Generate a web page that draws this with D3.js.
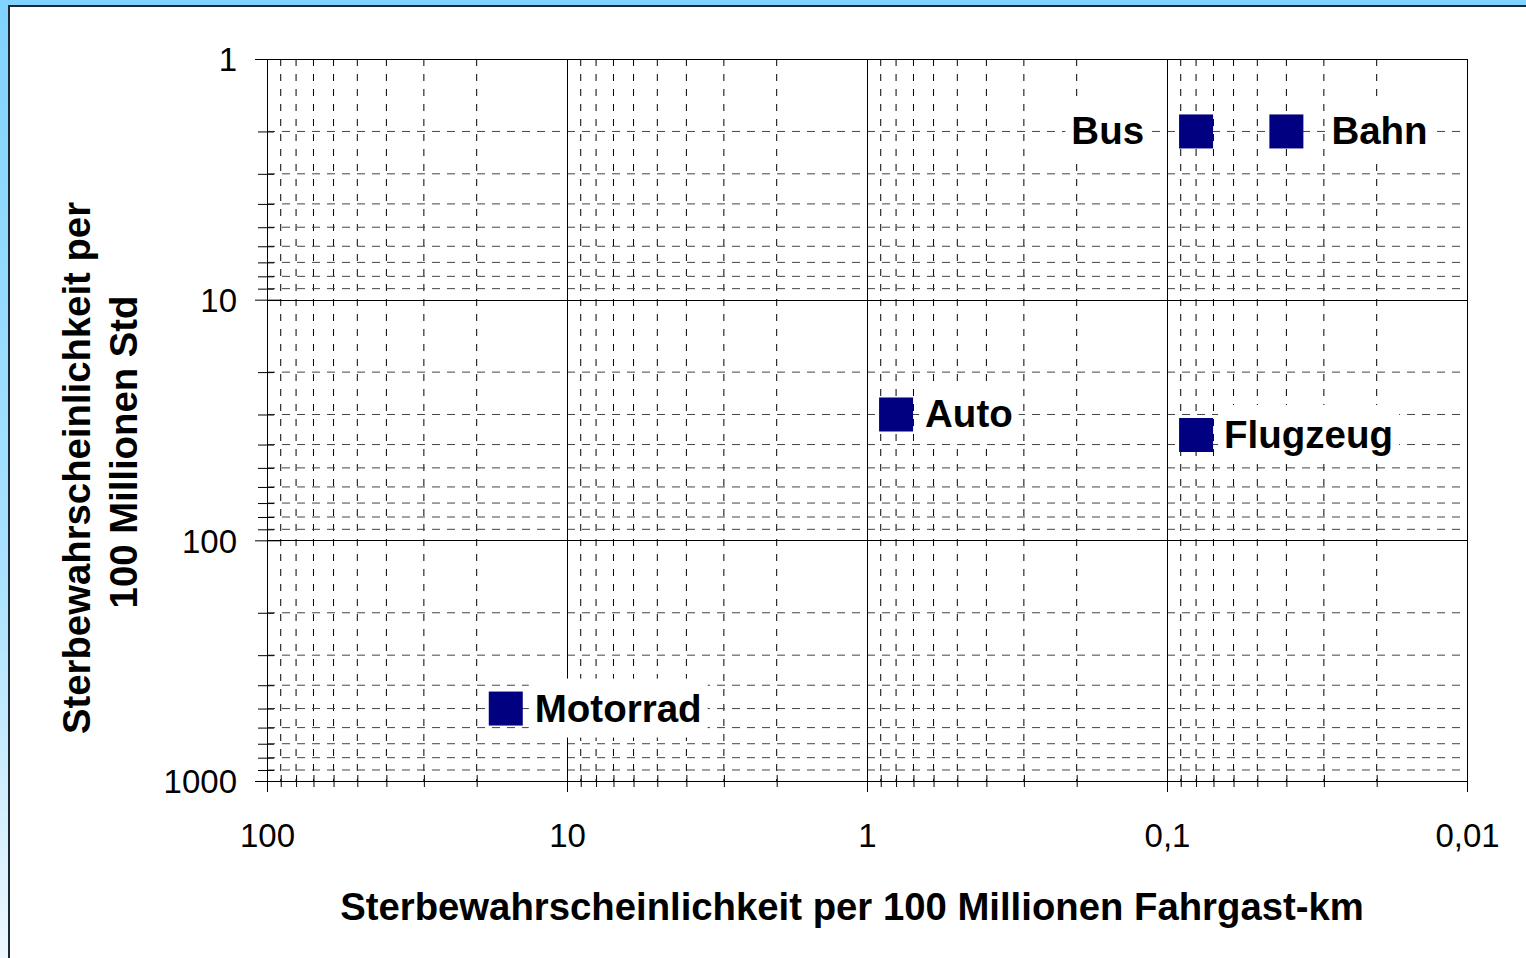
<!DOCTYPE html>
<html>
<head>
<meta charset="utf-8">
<script src="https://cdn.jsdelivr.net/npm/d3@7"></script>
<style>
  body { margin: 0; background: #fff; }
  text { font-family: "Liberation Sans", Arial, sans-serif; }
</style>
</head>
<body>
<div id="chart"></div>
<script>
// values
const modes = ["Bus", "Bahn", "Auto", "Flugzeug", "Motorrad"];
const deathsPerKm = [0.08, 0.04, 0.8, 0.08, 16];      // per 100 Mio Fahrgast-km
const deathsPerHour = [2, 2, 30, 36.5, 500];          // per 100 Mio Std
const xTickValues = [100, 10, 1, 0.1, 0.01];
const xTickLabels = ["100", "10", "1", "0,1", "0,01"];
const yTickValues = [1, 10, 100, 1000];
const yTickLabels = ["1", "10", "100", "1000"];
const xTitle = "Sterbewahrscheinlichkeit per 100 Millionen Fahrgast-km";
const yTitleLines = ["Sterbewahrscheinlichkeit per", "100 Millionen Std"];

// where each data label sits next to its marker
const labelSide = { Bus: "left", Bahn: "right", Auto: "right", Flugzeug: "right", Motorrad: "right" };
const labelGap = { Bus: 35, Bahn: 28, Auto: 12, Flugzeug: 11, Motorrad: 12 };

const W = 1526, H = 958;
const plot = { left: 267, right: 1467, top: 59, bottom: 781 };

const svg = d3.select("#chart").append("svg")
  .attr("width", W)
  .attr("height", H);

// slide frame
const grad = svg.append("defs").append("linearGradient")
  .attr("id", "edge").attr("x1", 0).attr("y1", 0).attr("x2", 0).attr("y2", 1);
grad.append("stop").attr("offset", "0").attr("stop-color", "#80d4ff");
grad.append("stop").attr("offset", "0.6").attr("stop-color", "#a9e2ff");
grad.append("stop").attr("offset", "1").attr("stop-color", "#eef7ff");
svg.append("rect").attr("x", 0).attr("y", 0).attr("width", W).attr("height", H).attr("fill", "#fff");
svg.append("rect").attr("x", 0).attr("y", 0).attr("width", W).attr("height", 5).attr("fill", "#80d4ff");
svg.append("rect").attr("x", 0).attr("y", 0).attr("width", 8).attr("height", H).attr("fill", "url(#edge)");
svg.append("rect").attr("x", 8).attr("y", 5).attr("width", W - 8).attr("height", 2).attr("fill", "#1e2830");
svg.append("rect").attr("x", 8).attr("y", 5).attr("width", 2).attr("height", H - 5).attr("fill", "#1e2830");

const x = d3.scaleLog().domain([100, 0.01]).range([plot.left, plot.right]);
const y = d3.scaleLog().domain([1, 1000]).range([plot.top, plot.bottom]);

function isMajor(d) {
  const l = Math.log10(d);
  return Math.abs(l - Math.round(l)) < 1e-9;
}
function labelFor(values, labels, d) {
  const i = values.findIndex(v => Math.abs(Math.log10(v) - Math.log10(d)) < 1e-6);
  return i < 0 ? "" : labels[i];
}

const xAll = x.ticks();
const yAll = y.ticks();

// grid
const grid = svg.append("g").attr("stroke", "#000").attr("stroke-width", 1).attr("fill", "none");
grid.selectAll(".vminor").data(xAll.filter(d => !isMajor(d)))
  .enter().append("line")
    .attr("x1", d => x(d)).attr("x2", d => x(d))
    .attr("y1", plot.top).attr("y2", plot.bottom)
    .attr("stroke-dasharray", "7,8");
grid.selectAll(".hminor").data(yAll.filter(d => !isMajor(d)))
  .enter().append("line")
    .attr("y1", d => y(d)).attr("y2", d => y(d))
    .attr("x1", plot.left).attr("x2", plot.right)
    .attr("stroke", "#444")
    .attr("stroke-dasharray", "8,7");
grid.selectAll(".vmajor").data(xTickValues)
  .enter().append("line")
    .attr("x1", d => Math.round(x(d)) + 0.5).attr("x2", d => Math.round(x(d)) + 0.5)
    .attr("y1", plot.top).attr("y2", plot.bottom);
grid.selectAll(".hmajor").data(yTickValues)
  .enter().append("line")
    .attr("y1", d => Math.round(y(d)) + 0.5).attr("y2", d => Math.round(y(d)) + 0.5)
    .attr("x1", plot.left).attr("x2", plot.right);

// axes
const xAxis = svg.append("g")
  .attr("transform", "translate(0," + plot.bottom + ")")
  .call(d3.axisBottom(x).tickValues(xAll).tickSizeOuter(0).tickSize(11)
    .tickFormat(d => isMajor(d) ? labelFor(xTickValues, xTickLabels, d) : ""));
xAxis.selectAll(".tick line")
  .attr("y1", d => isMajor(d) ? -7 : -6)
  .attr("y2", d => isMajor(d) ? 11 : 6)
  .attr("stroke", "#000");
xAxis.selectAll(".tick text")
  .attr("y", 66).attr("dy", 0)
  .attr("fill", "#000")
  .style("font-size", "33px");
xAxis.select(".domain").attr("stroke", "#000");

const yAxis = svg.append("g")
  .attr("transform", "translate(" + plot.left + ",0)")
  .call(d3.axisLeft(y).tickValues(yAll).tickSizeOuter(0).tickSize(12)
    .tickFormat(d => isMajor(d) ? labelFor(yTickValues, yTickLabels, d) : ""));
yAxis.selectAll(".tick line")
  .attr("x1", d => isMajor(d) ? 13 : 7)
  .attr("x2", d => isMajor(d) ? -12 : -9)
  .attr("stroke", "#000");
yAxis.selectAll(".tick text")
  .attr("x", -30).attr("dy", "0.36em")
  .attr("fill", "#000")
  .style("font-size", "33px");
yAxis.select(".domain").attr("stroke", "#000");

// titles
svg.append("text")
  .attr("x", 852).attr("y", 920)
  .attr("text-anchor", "middle")
  .style("font-size", "38.3px").style("font-weight", "bold")
  .text(xTitle);

[[90, 468], [137, 452]].forEach(function(p, i) {
  svg.append("text")
    .attr("transform", "translate(" + p[0] + "," + p[1] + ") rotate(-90)")
    .attr("text-anchor", "middle")
    .style("font-size", "38.3px").style("font-weight", "bold")
    .text(yTitleLines[i]);
});

// points and their labels
const points = modes.map((m, i) => ({ name: m, km: deathsPerKm[i], hr: deathsPerHour[i] }));
const size = 34;

const labelLayer = svg.append("g");
const markerLayer = svg.append("g");
const textLayer = svg.append("g");

markerLayer.selectAll("rect")
  .data(points)
  .enter().append("rect")
    .attr("x", d => x(d.km) - size / 2)
    .attr("y", d => y(d.hr) - size / 2)
    .attr("width", size)
    .attr("height", size)
    .attr("fill", "#000080");

const labels = textLayer.selectAll("text")
  .data(points)
  .enter().append("text")
    .attr("x", d => labelSide[d.name] == "left"
      ? x(d.km) - size / 2 - labelGap[d.name]
      : x(d.km) + size / 2 + labelGap[d.name])
    .attr("y", d => y(d.hr) + 13)
    .attr("text-anchor", d => labelSide[d.name] == "left" ? "end" : "start")
    .style("font-size", "38.5px").style("font-weight", "bold")
    .text(d => d.name);

// white boxes behind labels hide the grid like in the original
labels.each(function() {
  const b = this.getBBox();
  labelLayer.append("rect")
    .attr("x", b.x - 6).attr("y", b.y - 8)
    .attr("width", b.width + 12).attr("height", b.height + 16)
    .attr("fill", "#fff");
});
</script>
</body>
</html>
